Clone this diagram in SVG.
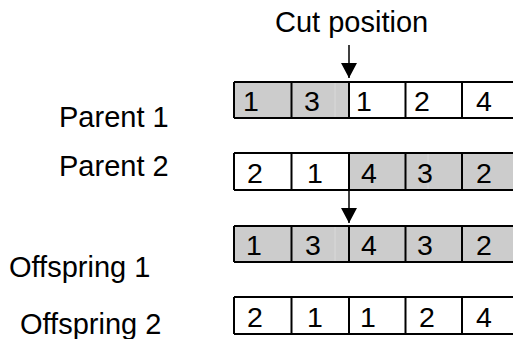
<svg xmlns="http://www.w3.org/2000/svg" width="513" height="339" viewBox="0 0 513 339">
<style>
text{font-family:"Liberation Sans",Arial,Helvetica,sans-serif;fill:#000}
.lbl{font-size:29px}
.d{font-size:28.5px}
.g{fill:#cccccc}
.w{fill:#ffffff}
.cell{stroke:#000;stroke-width:2}
.fl{stroke:#d9d9d9;stroke-width:1}
.con{stroke:#000;stroke-width:1.5;fill:none}
</style>
<defs>
<marker id="ah" markerUnits="userSpaceOnUse" markerWidth="16" markerHeight="16" refX="14" refY="7.5" orient="auto" viewBox="0 0 15 15">
<path d="M0,0 L14,7.5 L0,15 Z" fill="#000"/>
</marker>
</defs>
<rect width="513" height="339" fill="#fff"/>
<g id="label-cut"><text class="lbl" x="275" y="32">Cut position</text></g>
<g id="label-p1"><text class="lbl" x="59" y="127">Parent 1</text></g>
<g id="label-p2"><text class="lbl" x="59" y="176">Parent 2</text></g>
<g id="label-o1"><text class="lbl" x="9" y="277">Offspring 1</text></g>
<g id="label-o2"><text class="lbl" x="20" y="334">Offspring 2</text></g>

<g id="parent1">
<rect class="g" x="234" y="82" width="115" height="36"/>
<line class="fl" x1="335" y1="83" x2="335" y2="117"/>
<rect class="w" x="349" y="82" width="170" height="36"/>
<path class="cell" fill="none" d="M234,82 H519 M234,118 H519 M234,82 V118 M291.5,82 V118 M349,82 V118 M405.5,82 V118 M462,82 V118 M519,82 V118"/>
<text class="d" x="243" y="111">1</text>
<text class="d" x="304" y="111">3</text>
<text class="d" x="356" y="111">1</text>
<text class="d" x="414" y="111">2</text>
<text class="d" x="476" y="111">4</text>
</g>

<g id="parent2">
<rect class="w" x="234" y="153" width="115" height="37"/>
<rect class="g" x="349" y="153" width="170" height="37"/>
<line class="fl" x1="428" y1="154" x2="428" y2="189"/>
<path class="cell" fill="none" d="M234,153 H519 M234,190 H519 M234,153 V190 M291.5,153 V190 M349,153 V190 M405.5,153 V190 M462,153 V190 M519,153 V190"/>
<text class="d" x="247" y="183">2</text>
<text class="d" x="307" y="183">1</text>
<text class="d" x="361" y="183">4</text>
<text class="d" x="417" y="183">3</text>
<text class="d" x="476" y="183">2</text>
</g>

<g id="offspring1">
<rect class="g" x="234" y="226" width="285" height="36"/>
<line class="fl" x1="335" y1="227" x2="335" y2="261"/>
<path class="cell" fill="none" d="M234,226 H519 M234,262 H519 M234,226 V262 M291.5,226 V262 M349,226 V262 M405.5,226 V262 M462,226 V262 M519,226 V262"/>
<text class="d" x="246" y="255">1</text>
<text class="d" x="305" y="255">3</text>
<text class="d" x="361" y="255">4</text>
<text class="d" x="417" y="255">3</text>
<text class="d" x="476" y="255">2</text>
</g>

<g id="offspring2">
<rect class="w" x="234" y="297" width="285" height="37"/>
<path class="cell" fill="none" d="M234,297 H519 M234,334 H519 M234,297 V334 M291.5,297 V334 M349,297 V334 M405.5,297 V334 M462,297 V334 M519,297 V334"/>
<text class="d" x="247" y="327">2</text>
<text class="d" x="307" y="327">1</text>
<text class="d" x="360" y="327">1</text>
<text class="d" x="419" y="327">2</text>
<text class="d" x="476" y="327">4</text>
</g>

<g id="connectors">
<line class="con" x1="349" y1="45" x2="349" y2="78" marker-end="url(#ah)"/>
<line class="con" x1="349" y1="190" x2="349" y2="223" marker-end="url(#ah)"/>
</g>
</svg>
